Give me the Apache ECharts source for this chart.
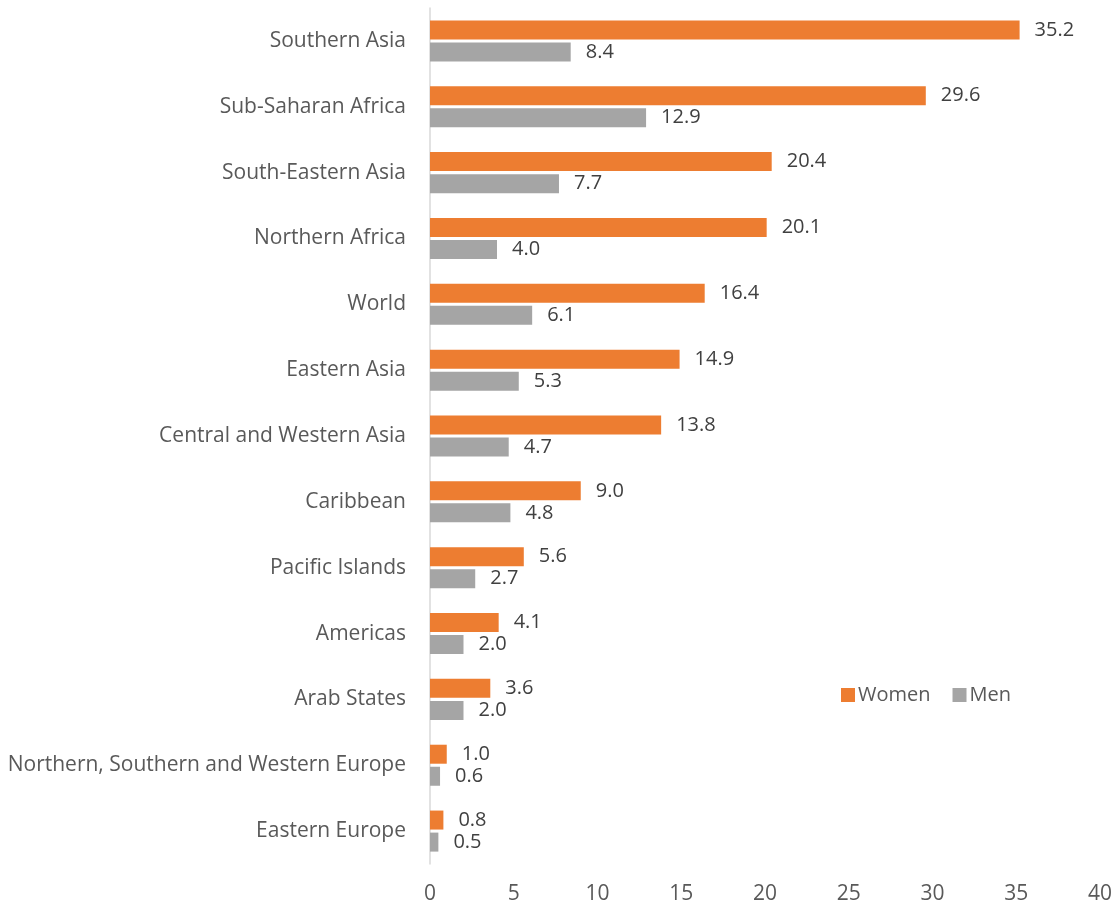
<!DOCTYPE html>
<html>
<head>
<meta charset="utf-8">
<script src="https://cdn.jsdelivr.net/npm/echarts@6/dist/echarts.min.js"></script>
<style>
  html, body { margin: 0; padding: 0; background: #fff; }
  #chart { width: 1119px; height: 905px; }
</style>
</head>
<body>
<div id="chart"></div>
<script>
const regions = [
    'Southern Asia', 'Sub-Saharan Africa', 'South-Eastern Asia', 'Northern Africa',
    'World', 'Eastern Asia', 'Central and Western Asia', 'Caribbean',
    'Pacific Islands', 'Americas', 'Arab States',
    'Northern, Southern and Western Europe', 'Eastern Europe'
];
const women = [35.2, 29.6, 20.4, 20.1, 16.4, 14.9, 13.8, 9.0, 5.6, 4.1, 3.6, 1.0, 0.8];
const men = [8.4, 12.9, 7.7, 4.0, 6.1, 5.3, 4.7, 4.8, 2.7, 2.0, 2.0, 0.6, 0.5];

const fontFamily = "'Open Sans', 'Noto Sans', sans-serif";
const textColor = '#595959';

var chartDom = document.getElementById('chart');
var myChart = echarts.init(chartDom);

const labelStyle = {
    show: true,
    position: 'right',
    distance: 15,
    color: '#404040',
    fontSize: 20,
    fontFamily: fontFamily,
    formatter: p => p.value.toFixed(1)
};

myChart.setOption({
    animation: false,
    grid: { left: 430, right: 19, top: 8, bottom: 41 },
    legend: {
        data: ['Women', 'Men'],
        left: 836,
        top: 680,
        itemWidth: 14,
        itemHeight: 14,
        itemGap: 22,
        icon: 'rect',
        textStyle: { color: textColor, fontSize: 20, fontFamily: fontFamily, padding: [0, 0, 0, -2] }
    },
    xAxis: {
        type: 'value',
        min: 0,
        max: 40,
        interval: 5,
        splitLine: { show: false },
        axisLine: { show: false },
        axisTick: { show: false },
        axisLabel: { color: textColor, fontSize: 21, fontFamily: fontFamily, margin: 20 }
    },
    yAxis: {
        type: 'category',
        data: regions,
        inverse: true,
        axisLine: { show: true, lineStyle: { color: '#d9d9d9', width: 1.5 } },
        axisTick: { show: false },
        axisLabel: { color: textColor, fontSize: 21, fontFamily: fontFamily, margin: 24 }
    },
    series: [
        {
            name: 'Women',
            type: 'bar',
            data: women,
            barWidth: 19,
            barGap: '16%',
            itemStyle: { color: '#ED7D31' },
            label: labelStyle
        },
        {
            name: 'Men',
            type: 'bar',
            data: men,
            barWidth: 19,
            itemStyle: { color: '#A5A5A5' },
            label: labelStyle
        }
    ]
});

new ResizeObserver(() => myChart.resize()).observe(chartDom);
</script>
</body>
</html>
